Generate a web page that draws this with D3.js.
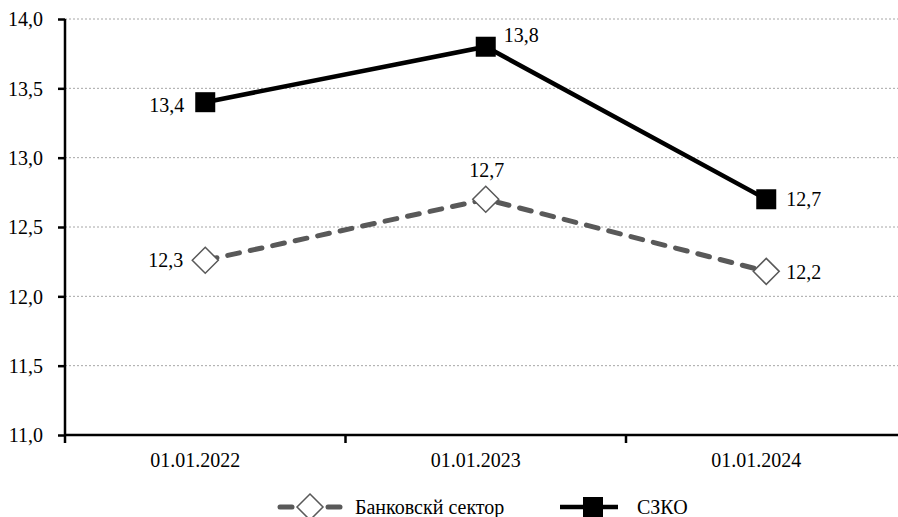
<!DOCTYPE html>
<html>
<head>
<meta charset="utf-8">
<script src="https://cdn.jsdelivr.net/npm/d3@7"></script>
<style>
  body { margin: 0; background: #fff; }
  svg, svg text { font-family: 'Liberation Serif', Tinos, 'Times New Roman', serif !important; }
</style>
</head>
<body>
<script>
// data
let dates = ["01.01.2022", "01.01.2023", "01.01.2024"];
let bankValues = [12.26, 12.70, 12.18];
let bankLabels = ["12,3", "12,7", "12,2"];
let szkoValues = [13.40, 13.80, 12.70];
let szkoLabels = ["13,4", "13,8", "12,7"];
let yTicks = [11.0, 11.5, 12.0, 12.5, 13.0, 13.5, 14.0];

let width = 898, height = 517;
let margin = {top: 19, right: 0, bottom: 82, left: 65};
let serifStyle = "font-family: 'Liberation Serif', Tinos, 'Times New Roman', serif !important";
let fontSize = 20;

let svg = d3.select("body").append("svg")
    .attr("width", width)
    .attr("height", height)
    .attr("style", serifStyle);

// scales
let x = d3.scaleBand()
    .domain(dates)
    .range([margin.left, margin.left + 3 * 280.5])
    .padding(0);
let y = d3.scaleLinear()
    .domain([11, 14])
    .range([height - margin.bottom, margin.top]);

let fmt = d => d.toFixed(1).replace(".", ",");

// grid lines
svg.append("g")
    .selectAll("line")
    .data(yTicks.slice(1))
    .join("line")
    .attr("x1", margin.left)
    .attr("x2", width)
    .attr("y1", d => y(d))
    .attr("y2", d => y(d))
    .attr("stroke", "#a6a6a6")
    .attr("stroke-width", 1)
    .attr("stroke-dasharray", "2,2");

// y axis
let yAxis = svg.append("g")
    .attr("transform", `translate(${margin.left},0)`)
    .call(d3.axisLeft(y).tickValues(yTicks).tickFormat(fmt).tickSize(7).tickPadding(15));
yAxis.attr("font-family", null);
yAxis.select(".domain").attr("stroke", "#000").attr("stroke-width", 2.5).attr("d", `M0,${y(14)}V${y(11)}`);
yAxis.selectAll(".tick line").attr("stroke", "#000").attr("stroke-width", 2.5);
yAxis.selectAll(".tick text").attr("font-size", fontSize).attr("fill", "#000")
    .attr("style", serifStyle)
    .attr("dy", "0.34em");

// x axis
let xAxis = svg.append("g")
    .attr("transform", `translate(0,${y(11)})`)
    .call(d3.axisBottom(x).tickSize(0));
xAxis.attr("font-family", null);
xAxis.select(".domain").attr("stroke", "#000").attr("stroke-width", 2.5)
    .attr("d", `M${margin.left},0H${width}`);
xAxis.selectAll(".tick text").attr("font-size", fontSize).attr("fill", "#000")
    .attr("style", serifStyle)
    .attr("x", -10)
    .attr("y", 32).attr("dy", 0);
// x tick marks at band boundaries
xAxis.append("g")
    .selectAll("line")
    .data(dates)
    .join("line")
    .attr("x1", d => x(d))
    .attr("x2", d => x(d))
    .attr("y1", 0)
    .attr("y2", 8)
    .attr("stroke", "#000")
    .attr("stroke-width", 2.5);

let cx = d => x(d) + x.bandwidth() / 2;

let line = d3.line()
    .x(d => cx(d.date))
    .y(d => y(d.value));

let bankData = dates.map((d, i) => ({date: d, value: bankValues[i], label: bankLabels[i]}));
let szkoData = dates.map((d, i) => ({date: d, value: szkoValues[i], label: szkoLabels[i]}));

// bank line
svg.append("path")
    .datum(bankData)
    .attr("d", line)
    .attr("fill", "none")
    .attr("stroke", "#595959")
    .attr("stroke-width", 5)
    .attr("stroke-linecap", "round")
    .attr("stroke-dasharray", "12,11");

let diamond = r => `M0,${-r}L${r},0L0,${r}L${-r},0Z`;

svg.append("g")
    .selectAll("path")
    .data(bankData)
    .join("path")
    .attr("transform", d => `translate(${cx(d.date)},${y(d.value)})`)
    .attr("d", diamond(13))
    .attr("fill", "#fff")
    .attr("stroke", "#595959")
    .attr("stroke-width", 1.5);

// szko line
svg.append("path")
    .datum(szkoData)
    .attr("d", line)
    .attr("fill", "none")
    .attr("stroke", "#000")
    .attr("stroke-width", 4.5);

svg.append("g")
    .selectAll("rect")
    .data(szkoData)
    .join("rect")
    .attr("x", d => cx(d.date) - 10)
    .attr("y", d => y(d.value) - 10)
    .attr("width", 20)
    .attr("height", 20)
    .attr("fill", "#000");

// labels
let bankOffsets = [{dx: -22, dy: 7, anchor: "end"}, {dx: 1, dy: -22, anchor: "middle"}, {dx: 20, dy: 8, anchor: "start"}];
let szkoOffsets = [{dx: -21, dy: 10, anchor: "end"}, {dx: 18, dy: -5, anchor: "start"}, {dx: 20, dy: 7, anchor: "start"}];

svg.append("g")
    .selectAll("text")
    .data(bankData)
    .join("text")
    .attr("x", (d, i) => cx(d.date) + bankOffsets[i].dx)
    .attr("y", (d, i) => y(d.value) + bankOffsets[i].dy)
    .attr("text-anchor", (d, i) => bankOffsets[i].anchor)
    .attr("font-size", fontSize)
    .attr("style", serifStyle)
    .text(d => d.label);

svg.append("g")
    .selectAll("text")
    .data(szkoData)
    .join("text")
    .attr("x", (d, i) => cx(d.date) + szkoOffsets[i].dx)
    .attr("y", (d, i) => y(d.value) + szkoOffsets[i].dy)
    .attr("text-anchor", (d, i) => szkoOffsets[i].anchor)
    .attr("font-size", fontSize)
    .attr("style", serifStyle)
    .text(d => d.label);

// legend
let legend = svg.append("g").attr("transform", "translate(0,507)");
[[280, 292], [328, 340]].forEach(seg => {
    legend.append("line")
        .attr("x1", seg[0]).attr("x2", seg[1]).attr("y1", 0).attr("y2", 0)
        .attr("stroke", "#595959").attr("stroke-width", 5)
        .attr("stroke-linecap", "round");
});
legend.append("path")
    .attr("transform", "translate(310,0)")
    .attr("d", diamond(13))
    .attr("fill", "#fff").attr("stroke", "#595959").attr("stroke-width", 1.5);
legend.append("text")
    .attr("x", 355).attr("y", 7).attr("font-size", fontSize)
    .attr("style", serifStyle)
    .text("Банковскй сектор");
legend.append("line")
    .attr("x1", 560).attr("x2", 618).attr("y1", 0).attr("y2", 0)
    .attr("stroke", "#000").attr("stroke-width", 4.5);
legend.append("rect")
    .attr("x", 583).attr("y", -10).attr("width", 20).attr("height", 20)
    .attr("fill", "#000");
legend.append("text")
    .attr("x", 637).attr("y", 7).attr("font-size", fontSize)
    .attr("style", serifStyle)
    .text("СЗКО");
</script>
</body>
</html>
